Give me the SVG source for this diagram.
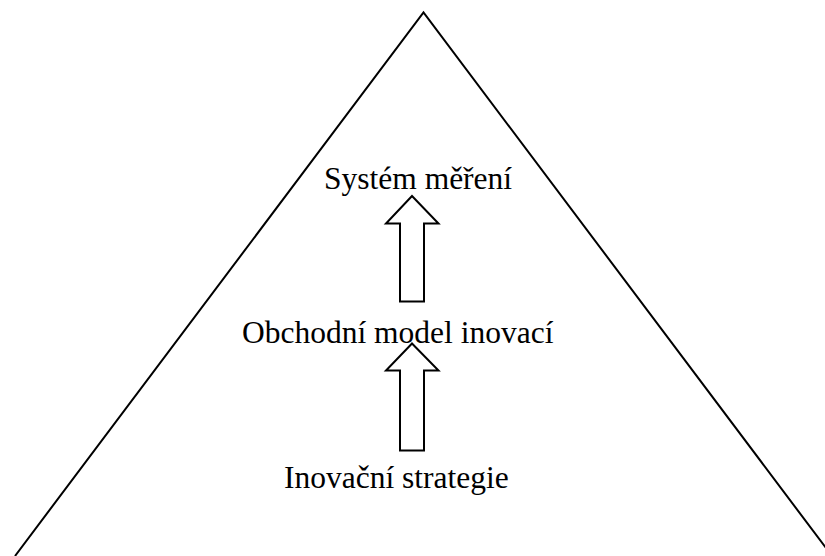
<svg xmlns="http://www.w3.org/2000/svg" width="825" height="556" viewBox="0 0 825 556">
  <style>
    .outline { fill: none; stroke: #000; stroke-width: 2; }
    .arrow { fill: #fff; stroke: #000; stroke-width: 2; stroke-linejoin: miter; }
    .label { font-family: "Liberation Serif", "Times New Roman", serif; font-size: 31.5px; fill: #000; }
  </style>
  <rect width="825" height="556" fill="#fff"/>
  <!-- pyramid outline, open at the base -->
  <g id="pyramid">
    <polyline class="outline" points="15,556 423.5,12.5 832,556"/>
  </g>
  <!-- block arrows between levels -->
  <g id="connectors">
    <polygon class="arrow" points="412,196 438.5,223.5 424,223.5 424,301.5 400,301.5 400,223.5 386,223.5"/>
    <polygon class="arrow" points="412,343.5 438.5,370.5 424,370.5 424,450.5 400,450.5 400,370.5 386,370.5"/>
  </g>
  <g id="level-measurement">
    <text class="label" x="324" y="189.3">Systém měření</text>
  </g>
  <g id="level-business-model">
    <text class="label" x="242" y="343.3">Obchodní model inovací</text>
  </g>
  <g id="level-strategy">
    <text class="label" x="284" y="488.3">Inovační strategie</text>
  </g>
</svg>
